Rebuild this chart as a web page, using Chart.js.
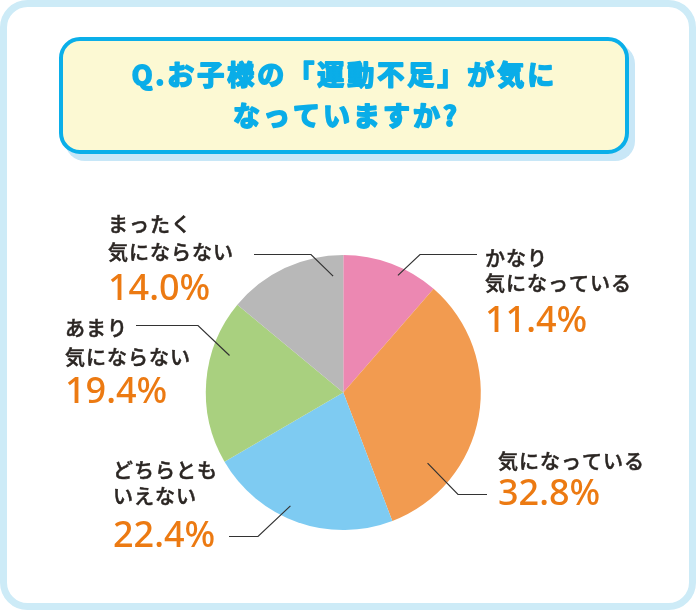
<!DOCTYPE html>
<html>
<head>
<meta charset="utf-8">
<script src="https://cdn.jsdelivr.net/npm/chart.js@4.4.1/dist/chart.umd.min.js"></script>
<style>
  html, body { margin: 0; padding: 0; background: #fff; }
  #mycanvas { display: block; }
</style>
</head>
<body>
<canvas id="mycanvas" width="696" height="610"></canvas>
<script>
// chart values
var titleLines = ['Q.お子様の「運動不足」が気に', 'なっていますか?'];
var categories = ['かなり気になっている', '気になっている', 'どちらともいえない', 'あまり気にならない', 'まったく気にならない'];
var labelLines = [['かなり', '気になっている'], ['気になっている'], ['どちらとも', 'いえない'], ['あまり', '気にならない'], ['まったく', '気にならない']];
var shares = [11.4, 32.8, 22.4, 19.4, 14.0];

// colours
var sliceColors = ['#EC88B2', '#F29B50', '#7ECBF2', '#A9D07F', '#B8B8B8'];

// label placement (pixels / polar angle from top in degrees)
var labelLayout = [
  {ang: 25, frac: 0.94, elbow: [420, 254.5], end: [477, 254.5], x: 485, lineY: [258, 283], pctY: 332},
  {ang: 130, frac: 0.80, elbow: [458, 494.5], end: [487, 494.5], x: 498, lineY: [461], pctY: 505},
  {ang: 205, frac: 0.91, elbow: [258, 536.5], end: [229, 536.5], x: 113, lineY: [470, 496], pctY: 547},
  {ang: 288, frac: 0.87, elbow: [198, 325.5], end: [136, 325.5], x: 65, lineY: [328, 357], pctY: 403},
  {ang: 355, frac: 0.85, elbow: [311, 254.5], end: [254, 254.5], x: 108, lineY: [224, 252], pctY: 300}
];

function roundRect(ctx, x, y, w, h, r) {
  ctx.beginPath();
  ctx.moveTo(x + r, y);
  ctx.arcTo(x + w, y, x + w, y + h, r);
  ctx.arcTo(x + w, y + h, x, y + h, r);
  ctx.arcTo(x, y + h, x, y, r);
  ctx.arcTo(x, y, x + w, y, r);
  ctx.closePath();
}

var framePlugin = {
  id: 'frame',
  beforeDraw: function(chart) {
    var ctx = chart.ctx;
    ctx.save();
    // outer frame
    roundRect(ctx, 3.5, 3.5, 689, 603, 24);
    ctx.lineWidth = 7;
    ctx.strokeStyle = '#CDEBF7';
    ctx.stroke();
    // title box shadow
    roundRect(ctx, 65, 44, 570, 117, 20);
    ctx.fillStyle = '#C8E7F7';
    ctx.fill();
    // title box
    roundRect(ctx, 61, 39, 566, 113, 19);
    ctx.fillStyle = '#FCF9D3';
    ctx.fill();
    ctx.lineWidth = 4;
    ctx.strokeStyle = '#0AAFE9';
    ctx.stroke();
    // title text (stroked a little to look heavier)
    ctx.fillStyle = '#0AADE8';
    ctx.strokeStyle = '#0AADE8';
    ctx.lineWidth = 1.8;
    ctx.lineJoin = 'round';
    ctx.font = 'bold 27px "Noto Sans CJK JP"';
    ctx.letterSpacing = '3px';
    ctx.textAlign = 'center';
    ctx.textBaseline = 'middle';
    ctx.fillText(titleLines[0], 344.5, 75);
    ctx.strokeText(titleLines[0], 344.5, 75);
    ctx.fillText(titleLines[1], 346.5, 116);
    ctx.strokeText(titleLines[1], 346.5, 116);
    ctx.restore();
  },
  afterDraw: function(chart) {
    var ctx = chart.ctx;
    var arcs = chart.getDatasetMeta(0).data;
    ctx.save();
    for (var i = 0; i < arcs.length; i++) {
      var a = arcs[i];
      var L = labelLayout[i];
      var rad = L.ang * Math.PI / 180;
      var ax = a.x + Math.sin(rad) * a.outerRadius * L.frac;
      var ay = a.y - Math.cos(rad) * a.outerRadius * L.frac;
      ctx.beginPath();
      ctx.moveTo(ax, ay);
      ctx.lineTo(L.elbow[0], L.elbow[1]);
      ctx.lineTo(L.end[0], L.end[1]);
      ctx.lineWidth = 1.2;
      ctx.strokeStyle = '#333333';
      ctx.stroke();

      ctx.textAlign = 'left';
      ctx.textBaseline = 'middle';
      ctx.fillStyle = '#2B2623';
      ctx.strokeStyle = '#2B2623';
      ctx.lineWidth = 0.5;
      ctx.font = '500 20px "Noto Sans CJK JP"';
      ctx.letterSpacing = '1px';
      for (var j = 0; j < labelLines[i].length; j++) {
        ctx.fillText(labelLines[i][j], L.x, L.lineY[j]);
        ctx.strokeText(labelLines[i][j], L.x, L.lineY[j]);
      }
      ctx.textBaseline = 'alphabetic';
      ctx.fillStyle = '#EC7A12';
      ctx.font = '500 36px "Noto Sans"';
      ctx.letterSpacing = '0px';
      ctx.fillText(shares[i].toFixed(1) + '%', L.x, L.pctY);
    }
    ctx.restore();
  }
};

var ctx = document.getElementById('mycanvas').getContext('2d');
var pieChart = new Chart(ctx, {
  type: 'pie',
  data: {
    labels: categories,
    datasets: [{
      data: shares,
      backgroundColor: sliceColors,
      borderWidth: 0
    }]
  },
  options: {
    responsive: false,
    animation: false,
    devicePixelRatio: 1,
    layout: {
      padding: {left: 205.8, right: 215.2, top: 255, bottom: 80}
    },
    plugins: {
      legend: {display: false},
      tooltip: {enabled: false}
    }
  },
  plugins: [framePlugin]
});
</script>
</body>
</html>
